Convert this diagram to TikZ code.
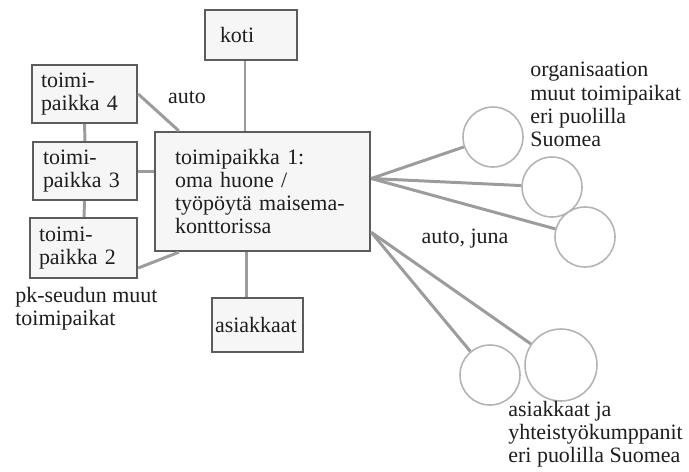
\documentclass[tikz,border=0pt]{standalone}
\usepackage{fontspec}
\setmainfont{Liberation Serif}
\usepackage{tikz}
\usetikzlibrary{calc}

\definecolor{boxline}{HTML}{5C5C5C}
\definecolor{boxfill}{HTML}{F6F6F6}
\definecolor{linkgray}{HTML}{9C9C9C}
\definecolor{circline}{HTML}{B4B4B4}
\definecolor{teksti}{HTML}{1E1E1E}

\tikzset{
	paikka/.style={draw=boxline, line width=1.4pt, fill=boxfill, align=left, inner ysep=0pt, text=teksti, font=\fontsize{12.5}{13.2}\selectfont},
	pallo/.style={circle, draw=circline, line width=0.9pt, fill=white, inner sep=0pt},
	yhteys/.style={draw=linkgray, line width=1.7pt},
	selite/.style={align=left, inner sep=0pt, text=teksti, font=\fontsize{12.5}{13.2}\selectfont}
}

\begin{document}
\begin{tikzpicture}[x=0.02cm, y=-0.02cm]
	\useasboundingbox (0,0) rectangle (689,471);
	
	%boxes
	\node[paikka, minimum width=1.84cm, minimum height=1.0cm, text width=1.24cm] (koti) at (251,35) {koti};
	\node[paikka, minimum width=2.1cm, minimum height=1.16cm, text width=1.74cm, inner xsep=0.18cm] (t4) at (84.5,94) {toimi-\\paikka 4};
	\node[paikka, minimum width=2.08cm, minimum height=1.16cm, text width=1.68cm, inner xsep=0.2cm] (t3) at (85,171) {toimi-\\paikka 3};
	\node[paikka, minimum width=2.14cm, minimum height=1.2cm, text width=1.78cm, inner xsep=0.18cm] (t2) at (83.5,248) {toimi-\\paikka 2};
	\node[paikka, minimum width=4.3cm, minimum height=2.38cm, text width=3.5cm, inner xsep=0.4cm] (main) at (262.5,191.5) {toimipaikka 1:\\oma huone /\\työpöytä maisema-\\konttorissa};
	\node[paikka, minimum width=1.82cm, minimum height=1.08cm, text width=1.7cm, inner xsep=0.06cm] (asiakkaat) at (257.5,325) {asiakkaat\\[0.2cm]};
	
	%circles
	\node[pallo, minimum size=1.2cm] (c1) at (493,137) {};
	\node[pallo, minimum size=1.2cm] (c2) at (552,187) {};
	\node[pallo, minimum size=1.2cm] (c3) at (585,237) {};
	\node[pallo, minimum size=1.2cm] (c4) at (490,375) {};
	\node[pallo, minimum size=1.44cm] (c5) at (561,365) {};
	
	%connectors
	\coordinate (oik) at ($(main.east)+(0,-13)$);
	\coordinate (ala) at ($(main.south east)+(0,-20)$);
	\coordinate (kotiala) at ($(koti.south)+(-6,0)$);
	\coordinate (asylä) at ($(asiakkaat.north west)+(36,0)$);
	\draw[yhteys] (kotiala) -- (kotiala |- main.north);
	\draw[yhteys] (t4) -- (t3);
	\draw[yhteys] (t3) -- (t2);
	\draw[yhteys] (t3.east) -- (t3.east -| main.west);
	\draw[yhteys] (t4.east) -- ($(main.north west)+(25,0)$);
	\draw[yhteys] ($(t2.east)+(0,20)$) -- ($(main.south west)+(25,0)$);
	\draw[yhteys] (asylä) -- (asylä |- main.south);
	\draw[yhteys] (oik) -- (c1);
	\draw[yhteys] (oik) -- (c2);
	\draw[yhteys] (oik) -- (c3);
	\draw[yhteys] (ala) -- (c4);
	\draw[yhteys] (ala) -- (c5);
	
	%labels
	\node[selite] (auto) at (187,97) {auto};
	\node[selite] (autojuna) at (465,239) {auto, juna};
	\node[selite, anchor=north west] (org) at (530,62) {organisaation\\muut toimipaikat\\eri puolilla\\Suomea};
	\node[selite, anchor=north west] (asy) at (508,401) {asiakkaat ja\\yhteistyökumppanit\\eri puolilla Suomea};
	\node[selite, anchor=north west] (pk) at (15,287) {pk-seudun muut\\toimipaikat};
\end{tikzpicture}
\end{document}
